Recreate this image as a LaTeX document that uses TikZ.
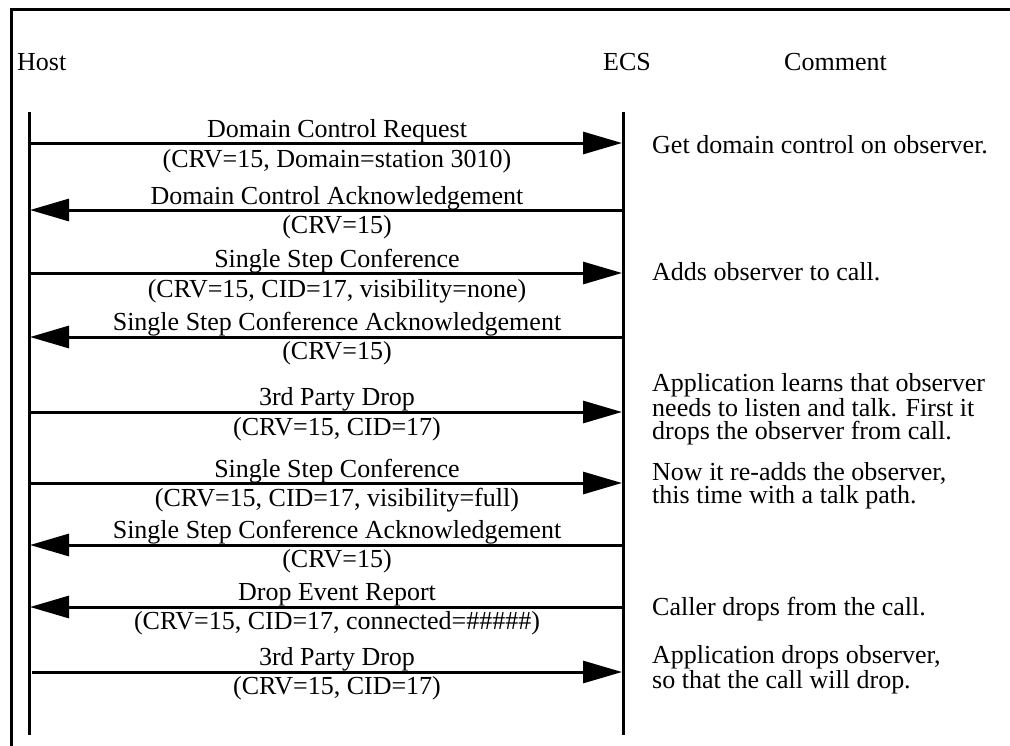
\documentclass[tikz,border=0pt]{standalone}
\usepackage{fontspec}
\setmainfont{Liberation Serif}
\usetikzlibrary{arrows.meta}
\tikzset{
  frame/.style={line width=3pt, line cap=rect},
  lifeline/.style={line width=3pt},
  msg/.style={line width=3pt, -{Triangle[length=39pt,width=22pt]}},
  lbl/.style={anchor=base, inner sep=0pt, font=\fontsize{26}{26}\selectfont},
  cmt/.style={anchor=base west, inner sep=0pt, align=left, font=\fontsize{26}{23}\selectfont},
  hdr/.style={anchor=base west, inner sep=0pt, font=\fontsize{26}{26}\selectfont},
}
\begin{document}
\begin{tikzpicture}[x=1pt,y=-1pt]
\useasboundingbox (0,0) rectangle (1010,745);
% frame
\coordinate (ftl) at (11,9);
\coordinate (ftr) at (1010,9);
\coordinate (fbl) at (11,745);
\draw[frame] (ftr) -- (ftl) -- (fbl);
% headers
\node[hdr] (host) at (17,70) {Host};
\node[hdr] (ecs) at (603,70) {ECS};
\node[hdr] (comment) at (784,70) {Comment};
% lifelines
\coordinate (htop) at (29,112);
\coordinate (hbot) at (29,735);
\coordinate (etop) at (623,112);
\coordinate (ebot) at (623,735);
\draw[lifeline] (htop) -- (hbot);
\draw[lifeline] (etop) -- (ebot);
% message end points
\foreach \i/\y in {1/143,2/210,3/273,4/337,5/412,6/483,7/545,8/607,9/672}{
  \coordinate (h\i) at (30,\y);
  \coordinate (e\i) at (622,\y);
}
\coordinate (h9s) at (32,672);
% messages
\draw[msg] (h1) -- (e1);
\draw[msg] (e2) -- (h2);
\draw[msg] (h3) -- (e3);
\draw[msg] (e4) -- (h4);
\draw[msg] (h5) -- (e5);
\draw[msg] (h6) -- (e6);
\draw[msg] (e7) -- (h7);
\draw[msg] (e8) -- (h8);
\draw[msg] (h9s) -- (e9);
% labels
\node[lbl] (m1a) at (337,137) {Domain Control Request};
\node[lbl] (m1b) at (337,167) {(CRV=15, Domain=station 3010)};
\node[lbl] (m2a) at (337,204) {Domain Control Acknowledgement};
\node[lbl] (m2b) at (337,233) {(CRV=15)};
\node[lbl] (m3a) at (337,267) {Single Step Conference};
\node[lbl] (m3b) at (337,297) {(CRV=15, CID=17, visibility=none)};
\node[lbl] (m4a) at (337,330) {Single Step Conference Acknowledgement};
\node[lbl] (m4b) at (337,359) {(CRV=15)};
\node[lbl] (m5a) at (337,405) {3rd Party Drop};
\node[lbl] (m5b) at (337,435) {(CRV=15, CID=17)};
\node[lbl] (m6a) at (337,477) {Single Step Conference};
\node[lbl] (m6b) at (337,506) {(CRV=15, CID=17, visibility=full)};
\node[lbl] (m7a) at (337,538) {Single Step Conference Acknowledgement};
\node[lbl] (m7b) at (337,567) {(CRV=15)};
\node[lbl] (m8a) at (337,600) {Drop Event Report};
\node[lbl] (m8b) at (337,629) {(CRV=15, CID=17, connected=\#\#\#\#\#)};
\node[lbl] (m9a) at (337,665) {3rd Party Drop};
\node[lbl] (m9b) at (337,694) {(CRV=15, CID=17)};
% comments (base anchor = baseline of last line)
\node[cmt] (c1) at (652,153) {Get domain control on observer.};
\node[cmt] (c2) at (652,280) {Adds observer to call.};
\node[cmt] (c3) at (652,439) {Application learns that observer\\needs to listen and talk. First it\\drops the observer from call.};
\node[cmt] (c4) at (652,503) {Now it re-adds the observer,\\this time with a talk path.};
\node[cmt] (c5) at (652,615) {Caller drops from the call.};
\node[cmt] (c6) at (652,688) {Application drops observer,\\so that the call will drop.};
\end{tikzpicture}
\end{document}
